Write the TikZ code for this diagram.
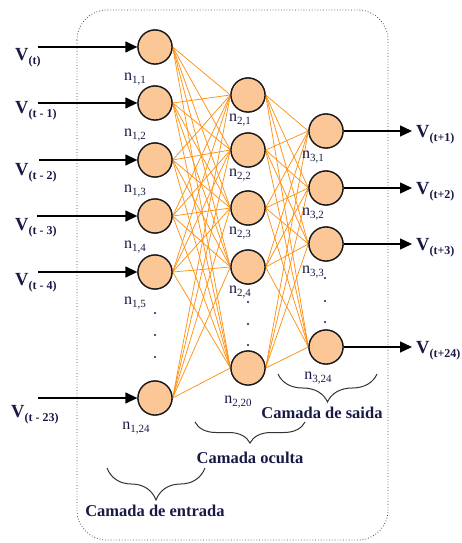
\documentclass[tikz,border=0pt]{standalone}
\usepackage{fontspec}
\setmainfont{Liberation Serif}
\usetikzlibrary{decorations.pathreplacing,arrows.meta}
\definecolor{navy}{RGB}{25,25,70}
\definecolor{peach}{RGB}{251,199,150}
\definecolor{wirecol}{RGB}{255,145,20}
\newcommand{\nlab}[1]{n\raisebox{-3pt}{\fontsize{11}{11}\selectfont #1}}
\newcommand{\vlab}[1]{V\raisebox{-4pt}{\fontsize{12}{12}\selectfont #1}}
\begin{document}
\begin{tikzpicture}[x=1pt,y=-1pt,
 neuron/.style={circle,draw=black!90,line width=1.3pt,fill=peach,minimum size=34pt,inner sep=0pt},
 nl/.style={text=navy,font=\fontsize{16}{16}\selectfont,inner sep=0pt},
 vl/.style={text=navy,font=\bfseries\fontsize{18.5}{18.5}\selectfont,inner sep=0pt,anchor=base west},
 io/.style={-{Triangle[length=12pt,width=11pt]},line width=1.3pt},
 wire/.style={draw=wirecol,line width=0.75pt},
 brc/.style={decorate,decoration={brace,amplitude=#1},line width=1pt,draw=black!80},
 layername/.style={text=navy,font=\bfseries\fontsize{16.5}{16.5}\selectfont,inner sep=0pt},
 dotmark/.style={circle,fill=navy,inner sep=0pt,minimum size=2.4pt}
]
\useasboundingbox (0,0) rectangle (461,543);
% frame
\draw[dotted,line width=0.8pt,draw=black!70,rounded corners=30pt] (77,10) rectangle (388,540);
% layer 1
\node[neuron] (a1) at (155,47) {};
\node[neuron] (a2) at (155,103) {};
\node[neuron] (a3) at (155,160) {};
\node[neuron] (a4) at (155,216) {};
\node[neuron] (a5) at (155,272) {};
\node[neuron] (a24) at (155,398) {};
% layer 2
\node[neuron] (b1) at (248,95) {};
\node[neuron] (b2) at (248,150) {};
\node[neuron] (b3) at (248,208) {};
\node[neuron] (b4) at (248,267) {};
\node[neuron] (b20) at (248,368) {};
% layer 3
\node[neuron] (c1) at (326,131) {};
\node[neuron] (c2) at (326,188) {};
\node[neuron] (c3) at (326,244) {};
\node[neuron] (c24) at (326,347) {};
% wires
\foreach \i in {a1,a2,a3,a4,a5,a24}{
  \foreach \j in {b1,b2,b3,b4,b20}{
    \draw[wire] (\i.east) -- (\j.west);
  }
}
\foreach \i in {b1,b2,b3,b4,b20}{
  \foreach \j in {c1,c2,c3,c24}{
    \draw[wire] (\i.east) -- (\j.west);
  }
}
% redraw neurons on top of wires
\foreach \x/\y in {155/47,155/103,155/160,155/216,155/272,155/398,
  248/95,248/150,248/208,248/267,248/368,
  326/131,326/188,326/244,326/347}{
  \node[neuron] at (\x,\y) {};
}
% neuron labels
\node[nl] (la1) at (135,79) {\nlab{1,1}};
\node[nl] (la2) at (135,135) {\nlab{1,2}};
\node[nl] (la3) at (135,191) {\nlab{1,3}};
\node[nl] (la4) at (135,247) {\nlab{1,4}};
\node[nl] (la5) at (135,303) {\nlab{1,5}};
\node[nl] (la24) at (136,428) {\nlab{1,24}};
\node[nl] (lb1) at (240,120) {\nlab{2,1}};
\node[nl] (lb2) at (240,175) {\nlab{2,2}};
\node[nl] (lb3) at (240,233) {\nlab{2,3}};
\node[nl] (lb4) at (240,292) {\nlab{2,4}};
\node[nl] (lb20) at (238,402) {\nlab{2,20}};
\node[nl] (lc1) at (313,157) {\nlab{3,1}};
\node[nl] (lc2) at (313,214) {\nlab{3,2}};
\node[nl] (lc3) at (313,272) {\nlab{3,3}};
\node[nl] (lc24) at (318,378) {\nlab{3,24}};
% dots
\foreach \x/\y [count=\k] in {155/313,155/335,155/357,248/302,248/324,248/345,325/278,325/301,325/322}{
  \node[dotmark] (d\k) at (\x,\y) {};
}
% inputs
\coordinate (i1) at (38,47);
\coordinate (i2) at (38,103);
\coordinate (i3) at (39,160);
\coordinate (i4) at (37,216);
\coordinate (i5) at (38,272);
\coordinate (i24) at (38,398);
\draw[io] (i1) -- (a1.west);
\draw[io] (i2) -- (a2.west);
\draw[io] (i3) -- (a3.west);
\draw[io] (i4) -- (a4.west);
\draw[io] (i5) -- (a5.west);
\draw[io] (i24) -- (a24.west);
\node[vl] (v1) at (15,60) {\vlab{(t)}};
\node[vl] (v2) at (15,113) {\vlab{(t - 1)}};
\node[vl] (v3) at (15,175) {\vlab{(t - 2)}};
\node[vl] (v4) at (15,230) {\vlab{(t - 3)}};
\node[vl] (v5) at (15,285) {\vlab{(t - 4)}};
\node[vl] (v24) at (11,417) {\vlab{(t - 23)}};
% outputs
\coordinate (o1) at (412,131);
\coordinate (o2) at (412,188);
\coordinate (o3) at (412,244);
\coordinate (o24) at (412,347);
\draw[io] (c1.east) -- (o1);
\draw[io] (c2.east) -- (o2);
\draw[io] (c3.east) -- (o3);
\draw[io] (c24.east) -- (o24);
\node[vl] (w1) at (416,137) {\vlab{(t+1)}};
\node[vl] (w2) at (416,194) {\vlab{(t+2)}};
\node[vl] (w3) at (416,250) {\vlab{(t+3)}};
\node[vl] (w24) at (416,353) {\vlab{(t+24)}};
% braces
\draw[brc=28pt] (377,374) -- (278,374);
\draw[brc=21pt] (305,422) -- (195,422);
\draw[brc=32pt] (205,468) -- (107,468);
\node[layername] (s3) at (322,413) {Camada de saida};
\node[layername] (s2) at (250,458) {Camada oculta};
\node[layername] (s1) at (155,511) {Camada de entrada};
\end{tikzpicture}
\end{document}
